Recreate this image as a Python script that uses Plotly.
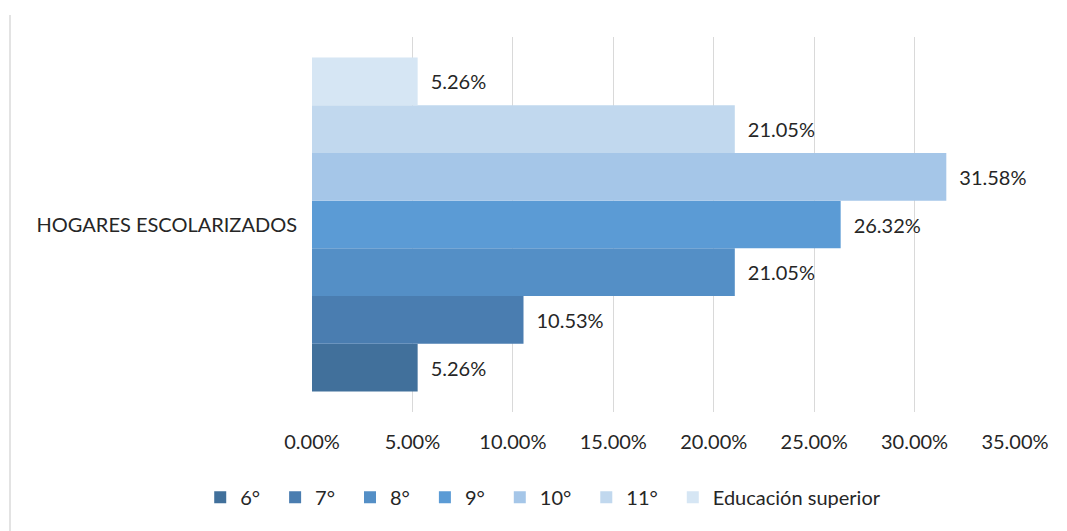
import plotly.graph_objects as go

category = ["HOGARES ESCOLARIZADOS"]
grades = ["6°", "7°", "8°", "9°", "10°", "11°", "Educación superior"]
shares = [5.26, 10.53, 21.05, 26.32, 31.58, 21.05, 5.26]
colors = ["#41709b", "#4a7db0", "#548fc6", "#5b9bd5", "#a5c6e8", "#c1d8ee", "#d6e6f4"]
tick_vals = [0, 5, 10, 15, 20, 25, 30, 35]
tick_text = [f"{v:.2f}%" for v in tick_vals]

FONT = "Lato, 'Open Sans', sans-serif"

fig = go.Figure()
for name, val, col in zip(grades, shares, colors):
    fig.add_trace(go.Bar(
        y=category, x=[val], name=name + "\u2002", orientation="h",
        marker=dict(color=col, line=dict(width=0)),
        text=[f"\u2002{val:.2f}%"], textposition="outside",
        textfont=dict(size=20, color="#262626"),
        cliponaxis=False,
    ))

# faint frame edge on the left of the original image
fig.add_shape(type="line", xref="paper", yref="paper",
              x0=-0.4296, x1=-0.4296, y0=1.059, y1=-0.33,
              line=dict(color="#e3e3e3", width=2))

# page body adds an 8px offset, so margins are shifted to compensate
fig.update_layout(
    barmode="group",
    bargap=0.11,
    width=1067, height=531,
    margin=dict(l=304, r=60, t=29, b=127),
    plot_bgcolor="white", paper_bgcolor="white",
    font=dict(family=FONT, size=20, color="#262626"),
    xaxis=dict(
        range=[0, 35], tickvals=tick_vals, ticktext=tick_text,
        showgrid=True, gridcolor="#d9d9d9", gridwidth=1.3, zeroline=False,
        ticks="outside", ticklen=12, tickcolor="rgba(0,0,0,0)",
        tickfont=dict(size=20, color="#262626"), automargin=False,
    ),
    yaxis=dict(
        showgrid=False, zeroline=False, ticks="outside", ticklen=10,
        tickcolor="rgba(0,0,0,0)", tickfont=dict(size=20, color="#262626"),
        automargin=False,
    ),
    legend=dict(
        orientation="h", x=-0.159, xanchor="left", y=-0.227, yanchor="middle",
        font=dict(size=20, color="#262626"), traceorder="normal",
        itemwidth=30,
    ),
    showlegend=True,
)

fig.write_html("out.html")
